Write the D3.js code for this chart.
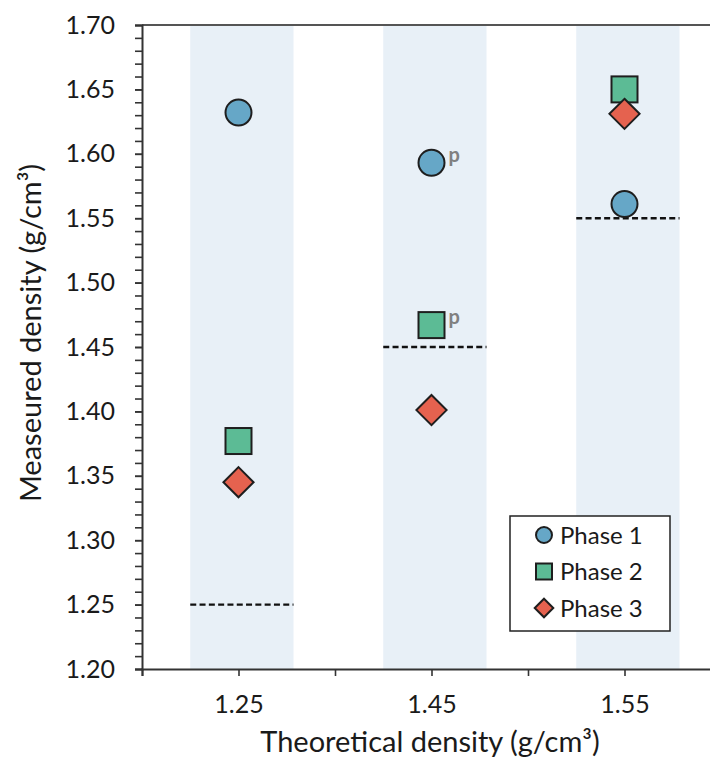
<!DOCTYPE html>
<html>
<head>
<meta charset="utf-8">
<script src="https://cdn.jsdelivr.net/npm/d3@7"></script>
<style>
  body { margin: 0; background: #fff; }
  svg { display: block; font-family: Lato, "Open Sans", sans-serif; }
</style>
</head>
<body>
<svg width="710" height="760"></svg>
<script>
// data
var categories = ["1.25", "1.45", "1.55"];
var theoretical = [1.25, 1.45, 1.55];
var catPos = [1, 3, 5];
var phase1 = [1.632, 1.593, 1.561];
var phase2 = [1.377, 1.467, 1.650];
var phase3 = [1.345, 1.401, 1.631];
var pMarks = [{ phase: 1, cat: 1 }, { phase: 2, cat: 1 }];
var yTicks = [1.20, 1.25, 1.30, 1.35, 1.40, 1.45, 1.50, 1.55, 1.60, 1.65, 1.70];

var svg = d3.select("svg"),
    width = +svg.attr("width"),
    height = +svg.attr("height");

var plotLeft = 142, plotTop = 25, plotBottom = 669;

var x = d3.scaleLinear().domain([0, 6]).range([plotLeft, plotLeft + 6 * 96.5]);
var y = d3.scaleLinear().domain([1.2, 1.7]).range([plotBottom, plotTop]);

var colors = ["#66a7c7", "#5cbb95", "#e5624f"];
var stroke = "#1e1e1e";

// shaded bands and theoretical lines
var bands = svg.append("g");
catPos.forEach(function(p, i) {
  bands.append("rect")
      .attr("x", x(p - 0.5))
      .attr("y", plotTop)
      .attr("width", x(p + 0.57) - x(p - 0.5))
      .attr("height", plotBottom - plotTop)
      .attr("fill", "#e8f0f7");
  bands.append("line")
      .attr("x1", x(p - 0.5))
      .attr("x2", x(p + 0.57))
      .attr("y1", y(theoretical[i]))
      .attr("y2", y(theoretical[i]))
      .attr("stroke", "#111")
      .attr("stroke-width", 2.4)
      .attr("stroke-dasharray", "6,3.3");
});

// top border
svg.append("line")
    .attr("x1", plotLeft).attr("x2", width)
    .attr("y1", plotTop).attr("y2", plotTop)
    .attr("stroke", "#555").attr("stroke-width", 2);

// y axis (major + minor)
var yMinor = svg.append("g")
    .attr("transform", "translate(" + plotLeft + ",0)")
    .call(d3.axisLeft(y).tickValues(d3.range(120, 171).map(function(d) { return d / 100; }))
      .tickSize(7).tickFormat(""));
var yAxis = svg.append("g")
    .attr("transform", "translate(" + plotLeft + ",0)")
    .call(d3.axisLeft(y).tickValues(yTicks).tickSize(7).tickPadding(20)
      .tickFormat(d3.format(".2f")));

// x axis
var xAxis = svg.append("g")
    .attr("transform", "translate(0," + plotBottom + ")")
    .call(d3.axisBottom(x).tickValues(d3.range(0, 7)).tickSize(7).tickPadding(19)
      .tickFormat(function(d) { var i = catPos.indexOf(d); return i < 0 ? "" : categories[i]; }));

[yMinor, yAxis, xAxis].forEach(function(a) {
  a.select(".domain").attr("stroke", "#333").attr("stroke-width", 2);
  a.selectAll(".tick line").attr("stroke", "#333").attr("stroke-width", 1.6);
  a.selectAll("text").attr("font-size", 25).attr("fill", "#1a1a1a")
      .attr("font-family", "Lato, sans-serif");
});
yMinor.select(".domain").remove();

// axis titles
svg.append("text")
    .attr("x", 430).attr("y", 752)
    .attr("text-anchor", "middle")
    .attr("font-size", 29).attr("fill", "#1a1a1a")
    .text("Theoretical density (g/cm³)");
svg.append("text")
    .attr("transform", "translate(41,333) rotate(-90)")
    .attr("text-anchor", "middle")
    .attr("font-size", 29).attr("fill", "#1a1a1a")
    .text("Measeured density (g/cm³)");

// markers
function drawShape(g, shape, cx, cy, s, fill) {
  if (shape === 0) {
    g.append("circle").attr("cx", cx).attr("cy", cy).attr("r", s / 2);
  } else if (shape === 1) {
    g.append("rect").attr("x", cx - s / 2).attr("y", cy - s / 2).attr("width", s).attr("height", s);
  } else {
    var h = s * 0.58;
    g.append("path").attr("d", "M" + cx + "," + (cy - h) + "L" + (cx + h) + "," + cy +
      "L" + cx + "," + (cy + h) + "L" + (cx - h) + "," + cy + "Z");
  }
  g.selectAll("*").attr("fill", fill).attr("stroke", stroke).attr("stroke-width", 2);
}

var series = [phase1, phase2, phase3];
series.forEach(function(vals, si) {
  vals.forEach(function(v, i) {
    drawShape(svg.append("g"), si, x(catPos[i]), y(v), 26, colors[si]);
  });
});

// "p" annotations
pMarks.forEach(function(m) {
  var v = series[m.phase - 1][m.cat];
  svg.append("text")
      .attr("x", x(catPos[m.cat]) + 17)
      .attr("y", y(v) - 1)
      .attr("font-size", 20).attr("font-weight", "bold")
      .attr("fill", "#808080")
      .text("p");
});

// legend
var legend = svg.append("g");
legend.append("rect")
    .attr("x", 510).attr("y", 516).attr("width", 160).attr("height", 115)
    .attr("fill", "#fff").attr("stroke", "#222").attr("stroke-width", 1.5);
["Phase 1", "Phase 2", "Phase 3"].forEach(function(name, i) {
  var cy = 535 + i * 36.5;
  drawShape(legend.append("g"), i, 544, cy, 16, colors[i]);
  legend.append("text")
      .attr("x", 560).attr("y", cy).attr("dy", "0.36em")
      .attr("font-size", 24).attr("fill", "#1a1a1a")
      .text(name);
});
</script>
</body>
</html>
